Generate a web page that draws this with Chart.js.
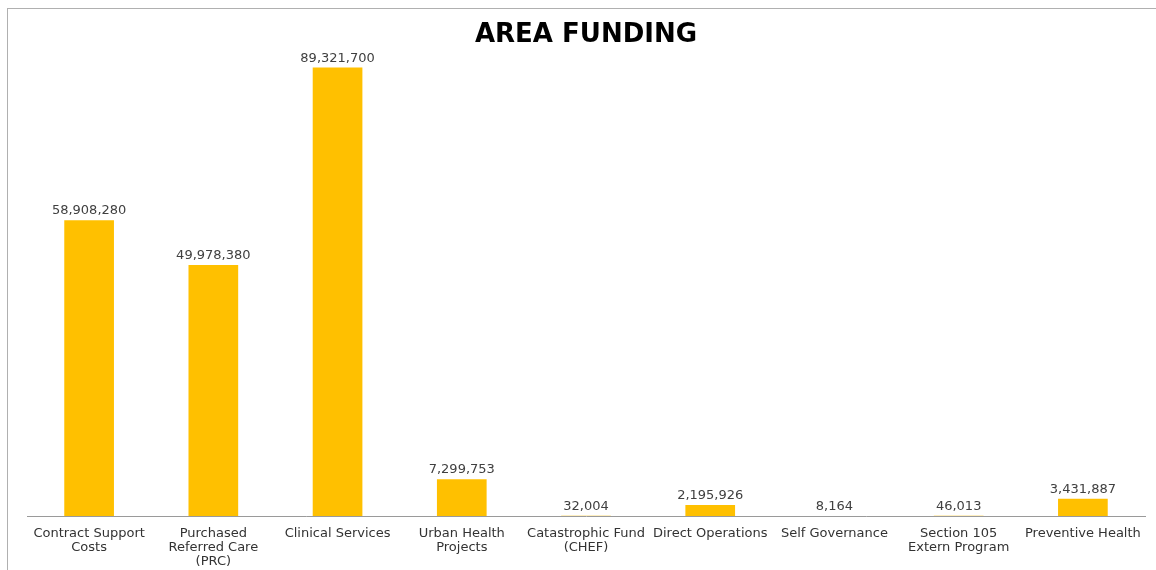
<!DOCTYPE html>
<html>
<head>
<meta charset="utf-8">
<title>Area Funding</title>
<script src="https://cdn.jsdelivr.net/npm/chart.js@4"></script>
<style>
    html, body { margin: 0; padding: 0; background: #fff; overflow: hidden; }
    #frame {
        position: absolute; left: 7px; top: 8px;
        width: 1200px; height: 620px;
        border: 1px solid #b0b0b0; box-sizing: border-box;
    }
    #fundingChart { position: absolute; left: 0; top: 0; }
</style>
</head>
<body>
<div id="frame"></div>
<canvas id="fundingChart" width="1156" height="570"></canvas>
<script>
// Funding programs and amounts (USD)
const programs = [
    ['Contract Support', 'Costs'],
    ['Purchased', 'Referred Care', '(PRC)'],
    'Clinical Services',
    ['Urban Health', 'Projects'],
    ['Catastrophic Fund', '(CHEF)'],
    'Direct Operations',
    'Self Governance',
    ['Section 105', 'Extern Program'],
    'Preventive Health'
];
const amounts = [58908280, 49978380, 89321700, 7299753, 32004, 2195926, 8164, 46013, 3431887];
const axisMax = 100000000;

const barColor = '#FFC000';
const labelFont = 'DejaVu Sans';

// Title drawn over the plot area, centred on it
const titlePlugin = {
    id: 'areaTitle',
    afterDraw(chart) {
        const { ctx, chartArea } = chart;
        ctx.save();
        ctx.font = 'bold 26px "DejaVu Sans"';
        ctx.fillStyle = '#000';
        ctx.textAlign = 'center';
        ctx.textBaseline = 'middle';
        ctx.fillText('AREA FUNDING', (chartArea.left + chartArea.right) / 2, 35);
        ctx.restore();
    }
};

// Amount printed above every bar
const valueLabels = {
    id: 'valueLabels',
    afterDatasetsDraw(chart) {
        const { ctx } = chart;
        const meta = chart.getDatasetMeta(0);
        ctx.save();
        ctx.font = '13px "DejaVu Sans"';
        ctx.fillStyle = '#404040';
        ctx.textAlign = 'center';
        ctx.textBaseline = 'alphabetic';
        meta.data.forEach((bar, i) => {
            ctx.fillText(amounts[i].toLocaleString('en-US'), bar.x, bar.y - 6);
        });
        ctx.restore();
    }
};

const ctx = document.getElementById('fundingChart').getContext('2d');
const fundingChart = new Chart(ctx, {
    type: 'bar',
    data: {
        labels: programs,
        datasets: [{
            data: amounts,
            backgroundColor: barColor,
            borderWidth: 0,
            barPercentage: 0.4,
            categoryPercentage: 1.0
        }]
    },
    options: {
        responsive: false,
        animation: false,
        layout: { padding: { left: 27, right: 11, top: 14, bottom: 0 } },
        plugins: {
            legend: { display: false },
            title: { display: false },
            tooltip: { enabled: false }
        },
        scales: {
            x: {
                grid: { display: false, drawTicks: false },
                border: { display: true, color: '#9a9a9a', width: 1 },
                ticks: {
                    autoSkip: false,
                    maxRotation: 0,
                    minRotation: 0,
                    padding: 11,
                    color: '#333',
                    font: { family: labelFont, size: 13, lineHeight: 1.08 }
                },
                afterFit(scale) { scale.height = 54; }
            },
            y: {
                display: false,
                min: 0,
                max: axisMax
            }
        }
    },
    plugins: [titlePlugin, valueLabels]
});
</script>
</body>
</html>
